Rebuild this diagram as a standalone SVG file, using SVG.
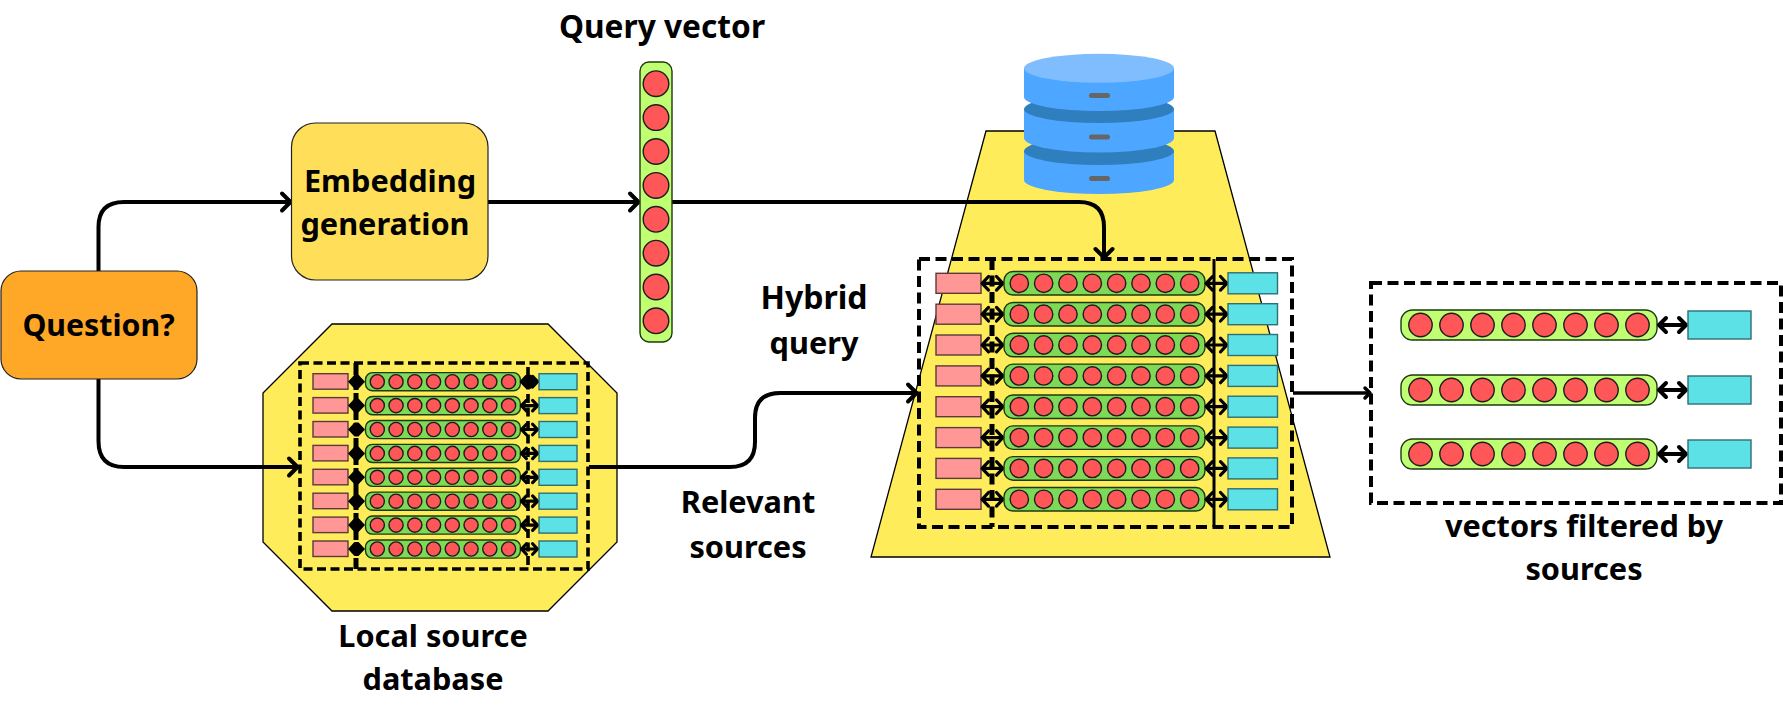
<svg xmlns="http://www.w3.org/2000/svg" xmlns:xlink="http://www.w3.org/1999/xlink" width="1783" height="706" viewBox="0 0 1783 706">
<style>
.t{font-family:"Noto Sans","Open Sans","Liberation Sans",sans-serif;font-weight:700;font-size:30.700px;fill:#000;text-anchor:middle}
.c{fill:none;stroke:#000;stroke-width:4;stroke-linejoin:round}
.d{fill:none;stroke:#000;stroke-width:4;stroke-dasharray:11 5.500}
.ds{fill:none;stroke:#000;stroke-width:3.600;stroke-dasharray:9 4.500}
.dv{fill:none;stroke:#000;stroke-width:5;stroke-dasharray:11 5.500}
.dvs{fill:none;stroke:#000;stroke-width:5;stroke-dasharray:12 3}
.base{fill:#ffec5a;stroke:#000;stroke-width:1.3}
.dot{fill:#ff5757;stroke:#1c1c1c;stroke-width:1.4;vector-effect:non-scaling-stroke}
.pill{stroke:#1c3a10;stroke-width:1.4;vector-effect:non-scaling-stroke}
.dark{fill:#7ed957}
.light{fill:#c1ff72}
.pink{fill:#ff9797;stroke:#5a3a3a;stroke-width:1.4}
.cyan{fill:#5ce1e6;stroke:#2e6f72;stroke-width:1.4}
.da{fill:none;stroke:#000;stroke-width:3.2;stroke-linecap:round;stroke-linejoin:round;vector-effect:non-scaling-stroke}
.box{stroke:#222;stroke-width:1.2}
.body{fill:#4da6ff}
.band{fill:#2f7fbf}
.slot{fill:#666}
</style>
<defs>
<marker id="ah" markerUnits="userSpaceOnUse" markerWidth="20" markerHeight="24" refX="13" refY="12" orient="auto"><path d="M4 3.500L12.500 12L4 20.500" fill="none" stroke="#000" stroke-width="4" stroke-linecap="round" stroke-linejoin="round"/></marker>
<marker id="ahs" markerUnits="userSpaceOnUse" markerWidth="14" markerHeight="16" refX="10" refY="8" orient="auto"><path d="M5 3L10 8L5 13" fill="none" stroke="#000" stroke-width="3.500" stroke-linecap="round" stroke-linejoin="round"/></marker>
<g id="vec">
<rect class="pill" x="0" y="-15" width="256" height="30" rx="11.500"/>
<circle class="dot" cx="19.500" r="11.700"/><circle class="dot" cx="50.500" r="11.700"/><circle class="dot" cx="81.500" r="11.700"/><circle class="dot" cx="112.500" r="11.700"/><circle class="dot" cx="143.500" r="11.700"/><circle class="dot" cx="174.500" r="11.700"/><circle class="dot" cx="205.500" r="11.700"/><circle class="dot" cx="236.500" r="11.700"/>
</g>
<path id="dbl" class="da" d="M-13 0H13M-5 -8.500L-13 0L-5 8.500M5 -8.500L13 0L5 8.500"/>
<path id="dbll" class="da" style="stroke-width:4" d="M-13.500 0H13.500M-6.500 -7L-13.500 0L-6.500 7M6.500 -7L13.500 0L6.500 7"/>
<path id="dia" d="M-8.500 0L-2 -7H2L8.500 0L2 7H-2Z" fill="#000"/>
<g id="rs">
<rect class="pink" x="313" y="-8" width="35" height="15.500"/>
<use href="#dia" x="356.500" y="0"/>
<use href="#vec" class="dark" transform="translate(365.500 0) scale(.605)"/>
<use href="#dbl" transform="translate(529.500 0) scale(.62)"/>
<rect class="cyan" x="539" y="-8" width="38" height="16"/>
</g>
<g id="rm">
<rect class="pink" x="936" y="-10" width="45" height="20"/>
<use href="#dbl" transform="translate(992.500 0) scale(.8)"/>
<use href="#vec" class="dark" transform="translate(1004 0) scale(.785)"/>
<use href="#dbl" transform="translate(1216.500 0) scale(.8)"/>
<rect class="cyan" x="1228" y="-10.500" width="49.500" height="21"/>
</g>
<g id="rl">
<use href="#vec" class="light" transform="translate(1401 0)"/>
<use href="#dbll" transform="translate(1672.500 0)"/>
<rect class="cyan" x="1688" y="-14" width="63" height="28"/>
</g>
</defs>

<g id="local-source-db-shape">
<polygon class="base" points="332,324 548,324 617,393 617,542 548,611 332,611 263,542 263,393"/>
</g>
<g id="hybrid-db-shape">
<polygon class="base" points="986,131 1215,131 1330,557 871,557"/>
</g>

<g id="database-icon">
<path class="body" d="M1024 151V180A75 14 0 0 0 1174 180V151Z"/>
<ellipse class="band" cx="1099" cy="151" rx="75" ry="14"/>
<path class="body" d="M1024 109V138A75 14.500 0 0 0 1174 138V109Z"/>
<ellipse class="band" cx="1099" cy="109" rx="75" ry="14"/>
<path class="body" d="M1024 68V97A75 14 0 0 0 1174 97V68Z"/>
<ellipse cx="1099" cy="68.300" rx="75" ry="14.500" fill="#7fbdff"/>
<rect class="slot" x="1089" y="93" width="21" height="5" rx="2.500"/>
<rect class="slot" x="1089" y="134.500" width="21" height="5" rx="2.500"/>
<rect class="slot" x="1089" y="176" width="21" height="5" rx="2.500"/>
</g>

<g id="connectors">
<path class="c" marker-end="url(#ah)" d="M98.500 271V227Q98.500 202 124 202H291"/>
<path class="c" marker-end="url(#ah)" d="M98.500 379V441Q98.500 467 124 467H298"/>
<path class="c" marker-end="url(#ah)" d="M488 202H639"/>
<path class="c" marker-end="url(#ah)" d="M672 202H1079Q1104 202 1104 227V258"/>
<path class="c" marker-end="url(#ah)" d="M589 467H730Q755 467 755 442V418Q755 393 780 393H917"/>
<path class="c" style="stroke-width:3.500" marker-end="url(#ahs)" d="M1293 393H1370"/>
</g>

<g id="question"><rect class="box" x="1" y="271" width="196" height="108" rx="20" fill="#ffa726"/><text class="t" style="font-size:30.300px" x="98.500" y="336">Question?</text></g>
<g id="embedding"><rect class="box" x="291.500" y="123" width="196.500" height="157" rx="24" fill="#ffde59"/><text class="t" x="390" y="192">Embedding</text><text class="t" x="385" y="235">generation</text></g>

<g id="query-vector">
<rect x="640" y="62" width="32" height="280" rx="9" fill="#c1ff72" stroke="#1c3a10" stroke-width="1.4"/>
<circle class="dot" cx="656" cy="83.700" r="12.800"/><circle class="dot" cx="656" cy="117.600" r="12.800"/><circle class="dot" cx="656" cy="151.500" r="12.800"/><circle class="dot" cx="656" cy="185.400" r="12.800"/><circle class="dot" cx="656" cy="219.300" r="12.800"/><circle class="dot" cx="656" cy="253.200" r="12.800"/><circle class="dot" cx="656" cy="287" r="12.800"/><circle class="dot" cx="656" cy="320.800" r="12.800"/>
<text class="t" style="font-size:31.700px" x="662" y="38">Query vector</text>
</g>

<g id="local-source-table">
<rect class="ds" x="300" y="363" width="288" height="206"/>
<path class="dvs" d="M356 363V569"/>
<path class="ds" d="M528 367V569"/>
<use href="#rs" y="381.700"/><use href="#rs" y="405.600"/><use href="#rs" y="429.500"/><use href="#rs" y="453.400"/><use href="#rs" y="477.300"/><use href="#rs" y="501.200"/><use href="#rs" y="525.100"/><use href="#rs" y="549"/>
<use href="#dia" x="529" y="381.700"/>
</g>

<g id="hybrid-table">
<rect class="d" x="919" y="259" width="373" height="268"/>
<path class="dv" d="M992 259V527"/>
<path fill="none" stroke="#000" stroke-width="3" d="M1214 259V527"/>
<use href="#rm" y="283.300"/><use href="#rm" y="314.200"/><use href="#rm" y="345"/><use href="#rm" y="375.900"/><use href="#rm" y="406.700"/><use href="#rm" y="437.600"/><use href="#rm" y="468.400"/><use href="#rm" y="499.300"/>
</g>

<g id="filtered-vectors">
<rect class="d" x="1371" y="283" width="410" height="220"/>
<use href="#rl" y="325"/><use href="#rl" y="390"/><use href="#rl" y="454"/>
</g>

<g id="labels">
<text class="t" style="font-size:32px" x="814" y="309">Hybrid</text><text class="t" x="814" y="354">query</text>
<text class="t" x="748" y="513">Relevant</text><text class="t" x="748" y="558">sources</text>
<text class="t" x="433" y="647">Local source</text><text class="t" x="433" y="690">database</text>
<text class="t" x="1584" y="537">vectors filtered by</text><text class="t" x="1584" y="580">sources</text>
</g>
</svg>
